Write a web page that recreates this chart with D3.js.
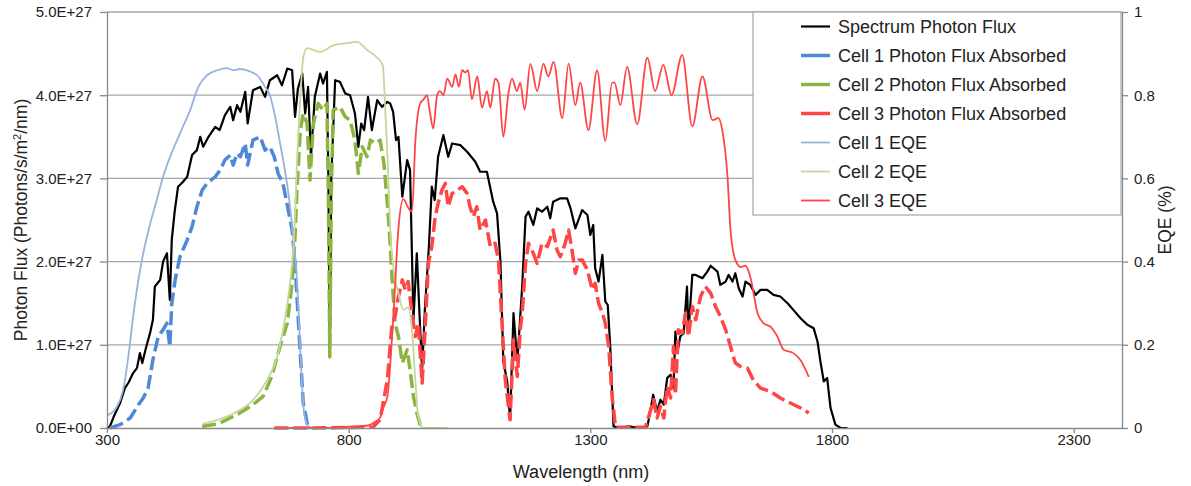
<!DOCTYPE html>
<html>
<head>
<meta charset="utf-8">
<script src="https://cdn.jsdelivr.net/npm/d3@7"></script>
<style>
  body { margin: 0; background: #fff; }
  svg { display: block; font-family: "Liberation Sans", Arial, sans-serif; }
</style>
</head>
<body>
<svg id="chart" width="1191" height="486"></svg>
<script>
// [wavelength nm, photon flux in units of 1E+27]
const spectrumFlux = [[300,0],[306,0.02],[315,0.15],[327,0.30],[337,0.48],[345,0.55],[354,0.66],[362,0.72],[368,0.9],[373,0.78],[380,0.95],[389,1.14],[395,1.3],[399,1.7],[410,1.78],[416,2.0],[424,2.1],[430,1.54],[434,2.26],[440,2.6],[447,2.9],[456,2.95],[466,3.02],[476,3.28],[486,3.34],[493,3.5],[499,3.38],[510,3.5],[524,3.62],[533,3.58],[544,3.76],[555,3.86],[561,3.7],[569,3.88],[576,3.8],[586,4.04],[591,3.66],[602,4.06],[617,4.1],[627,3.98],[637,4.18],[652,4.24],[662,4.12],[673,4.32],[683,4.3],[689,3.74],[695,4.08],[704,4.26],[710,3.78],[716,4.1],[722,3.26],[730,3.98],[741,4.26],[747,4.14],[755,4.28],[758,3.0],[761,0.85],[764,3.0],[772,4.18],[782,4.16],[793,4.02],[803,4.0],[813,3.78],[820,3.38],[826,3.66],[832,3.58],[840,3.98],[848,3.58],[859,3.94],[869,3.86],[880,3.92],[886,3.9],[892,3.8],[898,3.46],[903,3.5],[911,2.78],[921,3.22],[927,3.1],[934,1.30],[941,2.1],[948,1.18],[952,0.70],[958,1.46],[966,2.18],[972,2.9],[978,2.74],[985,3.26],[996,3.52],[1006,3.26],[1014,3.42],[1031,3.4],[1045,3.32],[1062,3.2],[1072,3.08],[1086,3.08],[1099,2.72],[1107,2.58],[1114,2.0],[1120,0.8],[1128,0.56],[1134,0.1],[1141,1.38],[1149,0.8],[1159,1.7],[1166,2.54],[1172,2.6],[1182,2.44],[1190,2.64],[1200,2.6],[1211,2.66],[1217,2.52],[1223,2.72],[1238,2.76],[1252,2.76],[1259,2.64],[1269,2.4],[1283,2.62],[1294,2.56],[1300,2.32],[1306,2.44],[1310,1.92],[1317,1.76],[1325,2.08],[1331,1.52],[1336,1.48],[1341,1.0],[1348,0.02],[1360,0],[1380,0.02],[1400,0],[1418,0.02],[1424,0.2],[1430,0.4],[1438,0.2],[1445,0.34],[1452,0.28],[1459,0.6],[1466,0.64],[1472,0.48],[1476,1.16],[1480,0.9],[1486,1.1],[1493,1.14],[1500,1.7],[1503,1.14],[1511,1.84],[1518,1.84],[1532,1.8],[1542,1.88],[1549,1.95],[1563,1.88],[1569,1.72],[1580,1.76],[1586,1.84],[1594,1.76],[1600,1.86],[1607,1.68],[1615,1.58],[1621,1.76],[1631,1.72],[1642,1.6],[1652,1.66],[1666,1.66],[1679,1.6],[1693,1.58],[1708,1.5],[1720,1.42],[1735,1.32],[1749,1.24],[1762,1.2],[1770,1.04],[1776,0.8],[1783,0.56],[1790,0.6],[1797,0.24],[1807,0.04],[1818,0],[1832,0]];

const cell1Absorbed = [[306,0],[327,0.04],[348,0.12],[365,0.28],[375,0.36],[385,0.48],[395,0.82],[406,1.1],[416,1.18],[424,1.26],[430,0.98],[434,1.5],[441,1.78],[451,2.06],[466,2.26],[476,2.42],[486,2.66],[497,2.86],[507,2.94],[524,3.02],[534,3.1],[544,3.22],[555,3.28],[561,3.16],[569,3.3],[576,3.26],[586,3.42],[591,3.16],[602,3.46],[617,3.5],[627,3.34],[637,3.38],[646,3.26],[654,3.06],[664,2.94],[675,2.62],[683,2.38],[689,1.98],[695,1.38],[701,0.78],[706,0.3],[716,0]];

const cell2Absorbed = [[497,0.02],[530,0.05],[575,0.18],[602,0.28],[623,0.38],[641,0.62],[658,0.98],[673,1.26],[683,1.74],[689,2.3],[693,2.86],[700,3.58],[706,3.78],[714,3.66],[720,2.98],[727,3.66],[737,3.9],[747,3.82],[755,3.9],[758,2.8],[761,0.86],[764,2.8],[768,3.82],[782,3.86],[793,3.74],[803,3.7],[813,3.46],[820,3.06],[828,3.38],[838,3.26],[845,3.46],[855,3.42],[865,3.46],[873,3.18],[880,2.7],[885,2.3],[890,1.78],[896,1.26],[903,1.1],[911,0.78],[921,0.94],[927,0.7],[934,0.38],[941,0.18],[948,0.04],[955,0]];

const cell3Absorbed = [[646,0],[700,0],[800,0.005],[850,0.01],[865,0.1],[880,0.58],[890,1.26],[896,1.34],[903,1.58],[911,1.78],[917,1.66],[923,1.76],[931,1.38],[938,1.1],[944,1.26],[952,0.54],[958,1.18],[965,1.98],[972,2.18],[979,2.54],[985,2.7],[993,2.86],[1000,2.94],[1006,2.66],[1014,2.82],[1025,2.86],[1035,2.9],[1045,2.82],[1051,2.66],[1058,2.54],[1065,2.66],[1072,2.38],[1083,2.5],[1093,2.18],[1103,2.22],[1110,2.02],[1118,1.18],[1124,0.58],[1134,0.1],[1141,1.06],[1149,0.62],[1155,1.18],[1159,1.38],[1166,1.98],[1172,2.22],[1182,2.1],[1190,1.98],[1200,2.22],[1211,2.18],[1223,2.38],[1231,2.14],[1238,2.06],[1248,2.22],[1255,2.38],[1262,2.14],[1269,1.86],[1276,2.02],[1283,2.02],[1294,1.9],[1304,1.66],[1310,1.74],[1317,1.5],[1325,1.38],[1331,1.26],[1338,0.98],[1345,0.38],[1352,0.01],[1380,0.01],[1414,0.01],[1424,0.2],[1431,0.34],[1438,0.12],[1445,0.26],[1452,0.12],[1459,0.5],[1466,0.36],[1472,0.98],[1476,0.4],[1482,1.18],[1490,1.14],[1497,1.38],[1503,1.1],[1511,1.46],[1518,1.3],[1528,1.58],[1538,1.7],[1549,1.62],[1559,1.46],[1569,1.34],[1580,1.18],[1590,0.98],[1600,0.78],[1611,0.74],[1625,0.72],[1637,0.58],[1652,0.48],[1673,0.44],[1693,0.36],[1714,0.3],[1735,0.24],[1752,0.18]];

// [wavelength nm, EQE fraction]
const cell1Eqe = [[300,0.03],[320,0.05],[333,0.09],[344,0.17],[354,0.267],[365,0.356],[375,0.42],[389,0.49],[403,0.548],[416,0.604],[430,0.65],[451,0.708],[472,0.764],[489,0.82],[507,0.848],[528,0.86],[548,0.865],[562,0.86],[575,0.863],[596,0.857],[613,0.845],[627,0.82],[637,0.80],[648,0.748],[658,0.685],[669,0.613],[679,0.53],[685,0.46],[693,0.356],[698,0.235],[703,0.115],[708,0.035],[716,0.005],[725,0]];

const cell2Eqe = [[498,0.01],[530,0.02],[575,0.043],[602,0.067],[631,0.115],[652,0.17],[664,0.235],[675,0.315],[683,0.397],[689,0.507],[693,0.636],[700,0.796],[706,0.89],[714,0.913],[741,0.904],[768,0.92],[797,0.925],[817,0.928],[838,0.909],[859,0.89],[868,0.878],[871,0.868],[876,0.757],[881,0.636],[886,0.476],[893,0.38],[903,0.324],[913,0.284],[923,0.29],[931,0.235],[938,0.115],[944,0.027],[955,0],[1004,0]];

const cell3Eqe = [[646,0],[760,0],[800,0.003],[840,0.006],[855,0.015],[865,0.025],[872,0.05],[880,0.075],[893,0.28],[903,0.48],[913,0.55],[923,0.53],[931,0.52],[938,0.69],[948,0.78],[955,0.79],[962,0.80],[968,0.76],[975,0.72],[983,0.80],[989,0.81],[996,0.80],[1004,0.84],[1014,0.82],[1021,0.85],[1028,0.82],[1035,0.86],[1041,0.855],[1047,0.86],[1055,0.79],[1066,0.845],[1076,0.77],[1086,0.81],[1093,0.77],[1103,0.84],[1110,0.83],[1120,0.70],[1130,0.80],[1138,0.84],[1148,0.81],[1155,0.83],[1164,0.765],[1176,0.875],[1190,0.81],[1203,0.876],[1213,0.845],[1224,0.88],[1242,0.745],[1255,0.876],[1269,0.776],[1279,0.83],[1296,0.716],[1314,0.86],[1331,0.69],[1345,0.83],[1350,0.83],[1362,0.776],[1376,0.868],[1397,0.73],[1418,0.89],[1434,0.81],[1451,0.873],[1468,0.80],[1490,0.897],[1511,0.725],[1532,0.845],[1553,0.74],[1565,0.745],[1573,0.716],[1584,0.60],[1590,0.476],[1600,0.404],[1611,0.387],[1621,0.39],[1631,0.363],[1646,0.276],[1658,0.252],[1673,0.243],[1687,0.22],[1700,0.188],[1720,0.18],[1735,0.163],[1752,0.123]];

const wavelengthTicks = [300, 800, 1300, 1800, 2300];
const fluxTicks = [0, 1, 2, 3, 4, 5];
const eqeTicks = [0, 0.2, 0.4, 0.6, 0.8, 1];

(() => {
  const svg = d3.select("#chart");
  const x = d3.scaleLinear().domain([300, 2400]).range([107, 1122]);
  const yFlux = d3.scaleLinear().domain([0, 5]).range([428, 12]);
  const yEqe = d3.scaleLinear().domain([0, 1]).range([428, 12]);

  // horizontal gridlines
  svg.append("g").selectAll("line").data(fluxTicks.filter((d) => d > 0)).enter().append("line")
    .attr("x1", x(300)).attr("x2", x(2400))
    .attr("y1", (d) => yFlux(d)).attr("y2", (d) => yFlux(d))
    .attr("stroke", "#a6a6a6").attr("stroke-width", 1.3);

  const series = [
    { name: "Spectrum Photon Flux", data: spectrumFlux, y: yFlux, color: "#000000", width: 2.2, dash: null, curve: d3.curveLinear },
    { name: "Cell 1 Photon Flux Absorbed", data: cell1Absorbed, y: yFlux, color: "#4f88d6", width: 3.5, dash: "14,5", curve: d3.curveLinear },
    { name: "Cell 2 Photon Flux Absorbed", data: cell2Absorbed, y: yFlux, color: "#8cb440", width: 3.5, dash: "14,5", curve: d3.curveLinear },
    { name: "Cell 3 Photon Flux Absorbed", data: cell3Absorbed, y: yFlux, color: "#ff4545", width: 3.5, dash: "14,5", curve: d3.curveLinear },
    { name: "Cell 1 EQE", data: cell1Eqe, y: yEqe, color: "#94b4dc", width: 1.8, dash: null, curve: d3.curveMonotoneX },
    { name: "Cell 2 EQE", data: cell2Eqe, y: yEqe, color: "#c2d89c", width: 1.8, dash: null, curve: d3.curveMonotoneX },
    { name: "Cell 3 EQE", data: cell3Eqe, y: yEqe, color: "#ff4545", width: 1.8, dash: null, curve: d3.curveMonotoneX },
  ];

  const plot = svg.append("g");
  series.forEach((s) => {
    const line = d3.line().x((d) => x(d[0])).y((d) => s.y(d[1])).curve(s.curve);
    plot.append("path").datum(s.data).attr("d", line)
      .attr("fill", "none").attr("stroke", s.color).attr("stroke-width", s.width)
      .attr("stroke-linejoin", "round").attr("stroke-dasharray", s.dash);
  });

  const styleAxis = (g) => {
    g.select(".domain").attr("stroke", "#898989").attr("stroke-width", 1.3);
    g.selectAll(".tick line").attr("stroke", "#898989").attr("stroke-width", 1.3);
    g.selectAll(".tick text").attr("fill", "#222").style("font-size", "15px").style("font-family", "'Liberation Sans', Arial, sans-serif");
  };

  svg.append("g").attr("transform", `translate(${x(300)},0)`)
    .call(d3.axisLeft(yFlux).tickValues(fluxTicks).tickSize(7).tickSizeOuter(0).tickPadding(8)
      .tickFormat((d) => (d === 0 ? "0.0E+00" : d.toFixed(1) + "E+27")))
    .call(styleAxis);

  svg.append("g").attr("transform", `translate(0,${yFlux(0)})`)
    .call(d3.axisBottom(x).tickValues(wavelengthTicks).tickSize(5).tickSizeOuter(0).tickPadding(1).tickFormat(d3.format("d")))
    .call(styleAxis);

  svg.append("g").attr("transform", `translate(${x(2400)},0)`)
    .call(d3.axisRight(yEqe).tickValues(eqeTicks).tickSize(6).tickSizeOuter(0).tickPadding(6).tickFormat((d) => String(d)))
    .call(styleAxis);

  // axis titles
  svg.append("text").attr("x", 581).attr("y", 478).attr("text-anchor", "middle")
    .attr("fill", "#222").style("font-size", "18px").text("Wavelength (nm)");

  const yTitle = svg.append("text").attr("transform", "translate(27,220) rotate(-90)")
    .attr("text-anchor", "middle").attr("fill", "#222").style("font-size", "17.5px");
  yTitle.append("tspan").text("Photon Flux (Photons/s/m");
  yTitle.append("tspan").attr("dy", "-6").style("font-size", "11px").text("2");
  yTitle.append("tspan").attr("dy", "6").text("/nm)");

  svg.append("text").attr("transform", "translate(1171,220) rotate(-90)")
    .attr("text-anchor", "middle").attr("fill", "#222").style("font-size", "17.5px").text("EQE (%)");

  // legend
  const legend = svg.append("g");
  legend.append("rect").attr("x", 753).attr("y", 12).attr("width", 368).attr("height", 203)
    .attr("fill", "#fff").attr("stroke", "#a6a6a6").attr("stroke-width", 1.2);
  const rows = legend.selectAll("g.row").data(series).enter().append("g")
    .attr("class", "row").attr("transform", (_d, i) => `translate(0,${26.5 + i * 29})`);
  rows.append("line").attr("x1", 801).attr("x2", 830).attr("y1", 0).attr("y2", 0)
    .attr("stroke", (d) => d.color).attr("stroke-width", (d) => d.width);
  rows.append("text").attr("x", 838).attr("dy", "0.35em").attr("fill", "#222")
    .style("font-size", "18px").text((d) => d.name);
})();
</script>
</body>
</html>
